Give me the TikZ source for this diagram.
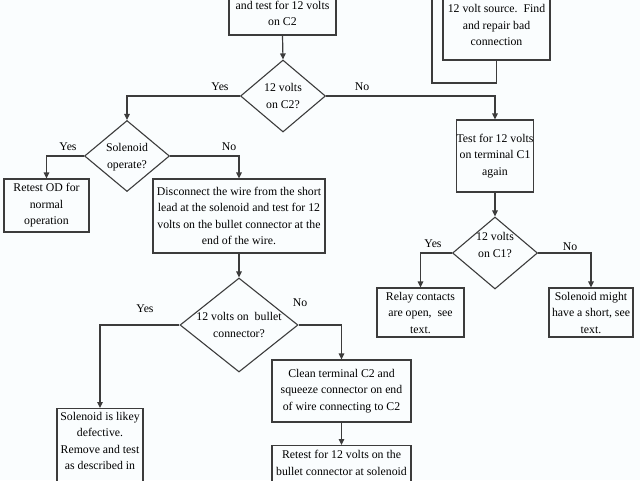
\documentclass[tikz,border=0pt]{standalone}
\usepackage{fontspec}
\setmainfont{Liberation Serif}
\usetikzlibrary{shapes.geometric,arrows.meta}
\definecolor{bgc}{RGB}{250,253,254}
\definecolor{linec}{RGB}{60,60,60}
\tikzset{
  x=1pt,y=-1pt,
  txt/.style={font=\fontsize{11.8}{16.5}\selectfont, align=center, inner sep=0pt, text=black},
  box/.style={draw=linec, line width=1.2pt, rectangle, inner sep=0pt, txt},
  dia/.style={draw=linec, line width=1.1pt, diamond, inner sep=0pt},
  conn/.style={draw=linec, line width=1.2pt},
  arr/.style={conn, -{Triangle[length=6pt,width=5.5pt]}},
  lab/.style={txt}
}
\begin{document}
\begin{tikzpicture}
\useasboundingbox (0,0) rectangle (640,480);
\fill[bgc] (0,0) rectangle (640,480);
\clip (0,0) rectangle (640,480);

% top left box (cut at top)
\node[box, minimum width=107, minimum height=80] (b1) at (282.5,-5) {};
\node[txt] (b1t) at (282.5,13.5) {and test for 12 volts\\on C2};

% top right box (cut at top)
\node[box, minimum width=107, minimum height=80] (src) at (496.5,20) {};
\node[txt] (srct) at (496.5,25) {12 volt source.\ \ Find\\and repair bad\\connection};
\coordinate (srcin) at (432,-10);

% diamond 1
\node[dia, minimum width=85, minimum height=72] (d1) at (283,96) {};
\node[txt] (d1t) at (283,96) {12 volts\\on C2?};

% solenoid operate diamond
\node[dia, minimum width=85, minimum height=71] (ds) at (127,156) {};
\node[txt] (dst) at (127,157) {Solenoid\\operate?};

% retest OD
\node[box, minimum width=85, minimum height=53] (rod) at (46.5,205.5) {Retest OD for\\normal\\operation};

% disconnect box
\node[box, minimum width=172, minimum height=74] (disc) at (239,216) {Disconnect the wire from the short\\lead at the solenoid and test for 12\\volts on the bullet connector at the\\end of the wire.};

% diamond 2
\node[dia, minimum width=118, minimum height=94] (d2) at (239,325) {};
\node[txt] (d2t) at (239,325) {12 volts on\ \ bullet\\connector?};

% solenoid likely box (cut at bottom)
\node[box, minimum width=86, minimum height=100, anchor=north] (sol) at (100,408) {};
\node[txt, anchor=north] (solt) at (100,412) {Solenoid is likey\\defective.\\Remove and test\\as described in};

% clean box
\node[box, minimum width=139, minimum height=62] (clean) at (341.5,391) {Clean terminal C2 and\\squeeze connector on end\\of wire connecting to C2};

% retest bottom box (cut at bottom)
\node[box, minimum width=139, minimum height=60, anchor=north] (ret) at (341.5,445) {};
\node[txt, anchor=north] (rett) at (341.5,450) {Retest for 12 volts on the\\bullet connector at solenoid};

% test box right
\node[box, minimum width=77, minimum height=72] (test) at (495,156) {Test for 12 volts\\on terminal C1\\again};

% diamond 3
\node[dia, minimum width=85, minimum height=72] (d3) at (495,253) {};
\node[txt] (d3t) at (495,245) {12 volts\\on C1?};

% relay box
\node[box, minimum width=87, minimum height=49] (relay) at (420.5,312.5) {Relay contacts\\are open,\ \ see\\text.};

% short box
\node[box, minimum width=84, minimum height=49] (short) at (591,312.5) {Solenoid might\\have a short, see\\text.};

% connectors
\draw[arr] (b1.south) -- (d1.north);
\draw[arr] (d1.west) -| (ds.north);
\draw[arr] (d1.east) -| (test.north);
\draw[arr] (ds.west) -| (rod.north);
\draw[arr] (ds.east) -| (disc.north);
\draw[arr] (disc.south) -- (d2.north);
\draw[arr] (d2.west) -| (sol.north);
\draw[arr] (d2.east) -| (clean.north);
\draw[arr] (clean.south) -- (ret.north);
\draw[arr] (test.south) -- (d3.north);
\draw[arr] (d3.west) -| (relay.north);
\draw[arr] (d3.east) -| (short.north);
\draw[conn] (srcin) -- (432,83) -| (src.south);

% labels
\node[lab] (l1) at (220,87) {Yes};
\node[lab] (l2) at (362,87) {No};
\node[lab] (l3) at (68,147) {Yes};
\node[lab] (l4) at (229,147) {No};
\node[lab] (l5) at (145,309) {Yes};
\node[lab] (l6) at (300,303) {No};
\node[lab] (l7) at (433,244) {Yes};
\node[lab] (l8) at (570,247) {No};
\end{tikzpicture}
\end{document}
